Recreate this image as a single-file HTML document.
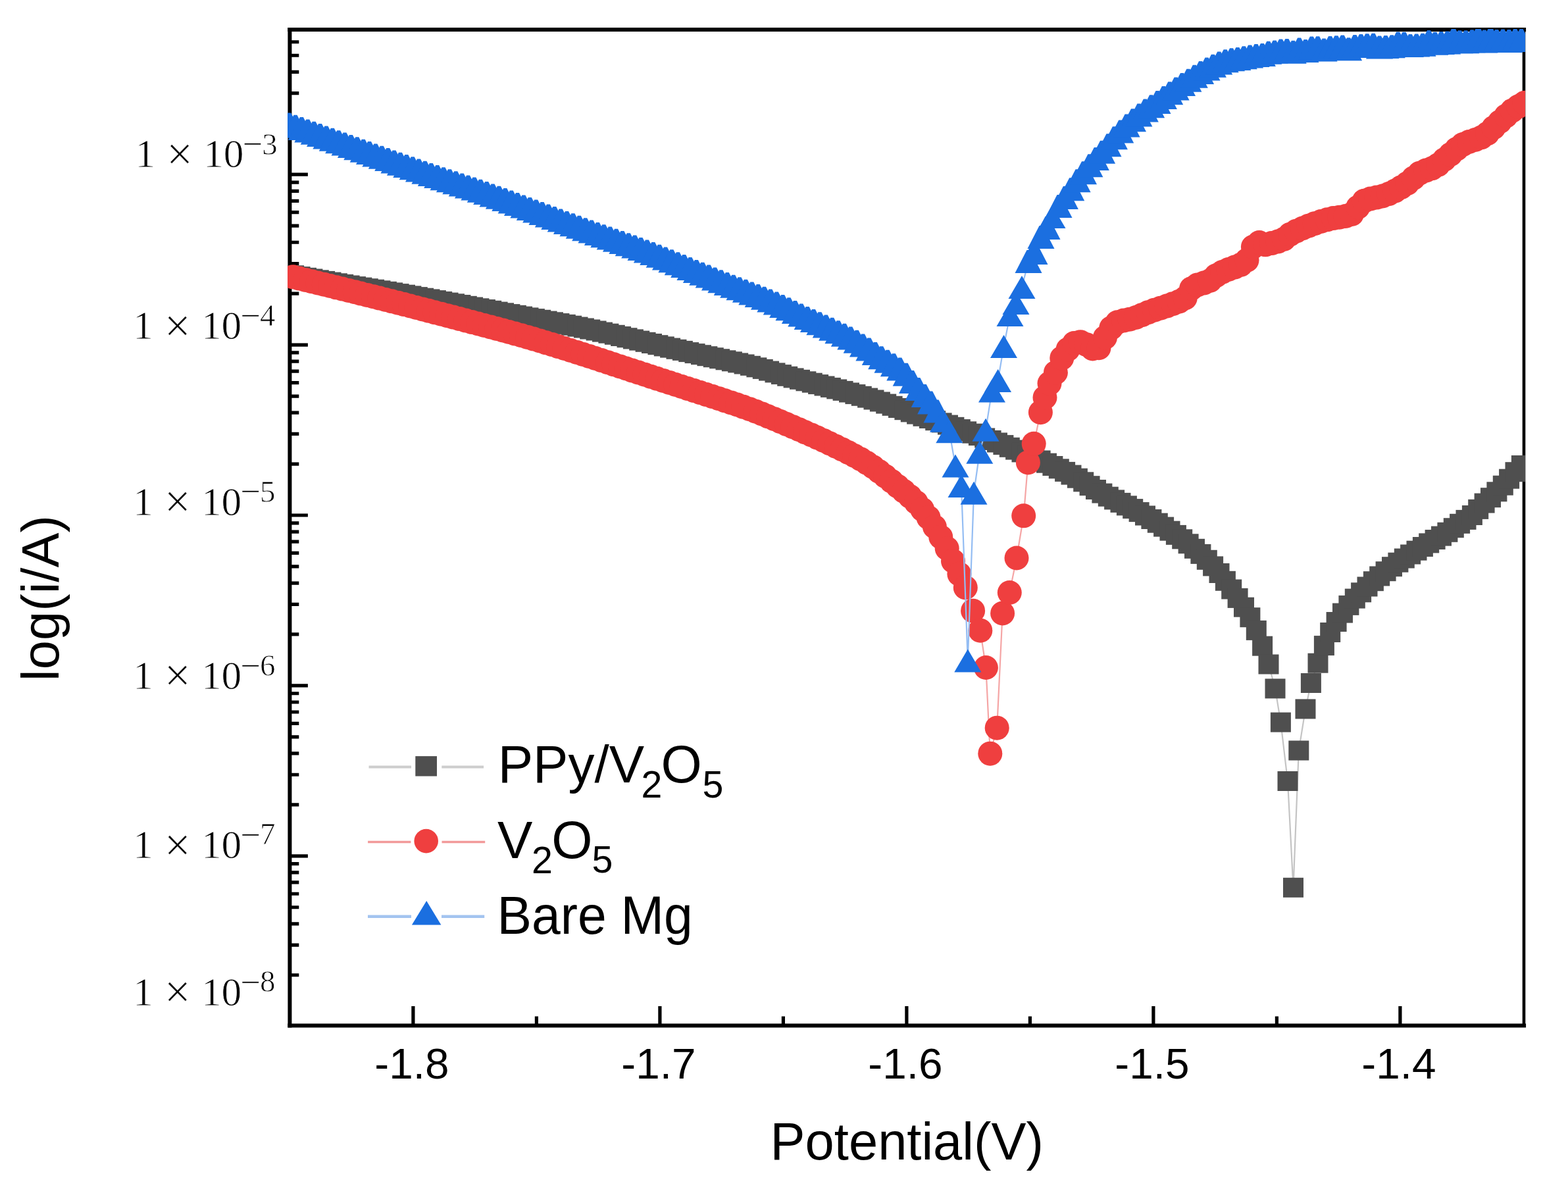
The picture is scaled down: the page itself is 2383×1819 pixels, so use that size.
<!DOCTYPE html><html><head><meta charset="utf-8"><style>html,body{margin:0;padding:0;background:#fff;}svg{display:block;}</style></head><body><svg xmlns="http://www.w3.org/2000/svg" width="2383" height="1819" viewBox="0 0 2383 1819">
<rect width="2383" height="1819" fill="#fff"/>
<defs><clipPath id="pc"><rect x="437" y="43.9" width="1881" height="1515"/></clipPath></defs>
<g stroke="#000" fill="none" stroke-linecap="square">
<line x1="440.4" y1="45" x2="2316" y2="45" stroke-width="6.2"/>
<line x1="440.4" y1="45" x2="440.4" y2="1558.5" stroke-width="6.0"/>
<line x1="440.4" y1="1558.5" x2="2316" y2="1558.5" stroke-width="6.2"/>
<line x1="2316" y1="45" x2="2316" y2="1558.5" stroke-width="4.6"/>
</g>
<path d="M443,1481.76H454.3M443,1436.17H454.3M443,1403.83H454.3M443,1378.74H454.3M443,1358.24H454.3M443,1340.90H454.3M443,1325.89H454.3M443,1312.65H454.3M443,1300.80H467.9M443,1222.86H454.3M443,1177.27H454.3M443,1144.93H454.3M443,1119.84H454.3M443,1099.34H454.3M443,1082.00H454.3M443,1066.99H454.3M443,1053.75H454.3M443,1041.90H467.9M443,963.96H454.3M443,918.37H454.3M443,886.03H454.3M443,860.94H454.3M443,840.44H454.3M443,823.10H454.3M443,808.09H454.3M443,794.85H454.3M443,783.00H467.9M443,705.06H454.3M443,659.47H454.3M443,627.13H454.3M443,602.04H454.3M443,581.54H454.3M443,564.20H454.3M443,549.19H454.3M443,535.95H454.3M443,524.10H467.9M443,446.16H454.3M443,400.57H454.3M443,368.23H454.3M443,343.14H454.3M443,322.64H454.3M443,305.30H454.3M443,290.29H454.3M443,277.05H454.3M443,265.20H467.9M443,187.26H454.3M443,141.67H454.3M443,109.33H454.3M443,84.24H454.3M443,63.74H454.3M627.90,1556V1529.0M815.40,1556V1544.5M1002.90,1556V1529.0M1190.40,1556V1544.5M1377.90,1556V1529.0M1565.40,1556V1544.5M1752.90,1556V1529.0M1940.40,1556V1544.5M2127.90,1556V1529.0" stroke="#000" stroke-width="5.2" fill="none"/>
<g clip-path="url(#pc)">
<polyline points="446.8,418.3 456.1,420.1 465.5,421.8 474.9,423.5 484.2,425.3 493.6,426.9 503.0,428.6 512.4,430.3 521.8,431.9 531.1,433.5 540.5,435.1 549.9,436.6 559.2,438.2 568.6,439.7 578.0,441.3 587.4,442.8 596.8,444.4 606.1,446.1 615.5,447.7 624.9,449.4 634.2,451.1 643.6,452.7 653.0,454.4 662.4,456.1 671.8,457.9 681.1,459.6 690.5,461.3 699.9,463.0 709.2,464.8 718.6,466.5 728.0,468.3 737.4,470.0 746.8,471.8 756.1,473.6 765.5,475.3 774.9,477.1 784.2,478.8 793.6,480.6 803.0,482.4 812.4,484.1 821.8,485.8 831.1,487.6 840.5,489.3 849.9,491.1 859.2,492.9 868.6,494.7 878.0,496.6 887.4,498.5 896.8,500.5 906.1,502.5 915.5,504.6 924.9,506.7 934.2,508.8 943.6,511.0 953.0,513.2 962.4,515.4 971.8,517.6 981.1,519.8 990.5,522.0 999.9,524.2 1009.2,526.4 1018.6,528.6 1028.0,530.8 1037.4,532.9 1046.8,535.1 1056.1,537.1 1065.5,539.2 1074.9,541.2 1084.2,543.2 1093.6,545.2 1103.0,547.3 1112.4,549.3 1121.8,551.4 1131.1,553.5 1140.5,555.8 1149.9,558.3 1159.2,560.9 1168.6,563.6 1178.0,566.4 1187.4,569.1 1196.8,571.8 1206.1,574.4 1215.5,576.8 1224.9,579.3 1234.2,581.7 1243.6,584.1 1253.0,586.5 1262.4,588.9 1271.8,591.4 1281.1,593.9 1290.5,596.5 1299.9,599.1 1309.2,601.8 1318.6,604.6 1328.0,607.5 1337.4,610.5 1346.8,613.6 1356.1,616.8 1365.5,620.0 1374.9,623.2 1384.2,626.4 1393.6,629.6 1403.0,632.8 1412.4,636.0 1421.8,639.2 1431.1,642.4 1440.5,645.6 1449.9,648.8 1459.2,652.1 1468.6,655.4 1478.0,658.7 1487.4,662.1 1496.8,665.5 1506.1,669.0 1515.5,672.5 1524.9,676.1 1534.2,679.8 1543.6,683.6 1553.0,687.4 1562.4,691.4 1571.8,695.4 1581.1,699.5 1590.5,703.7 1599.9,708.0 1609.2,712.3 1618.6,716.9 1628.0,721.6 1637.4,726.7 1646.8,732.3 1656.1,738.2 1665.5,744.0 1674.9,749.6 1684.2,754.7 1693.6,759.4 1703.0,763.9 1712.4,768.4 1721.8,773.1 1731.1,778.1 1740.5,783.5 1749.9,789.0 1759.2,794.7 1768.6,800.6 1778.0,806.7 1787.4,812.9 1796.8,819.3 1806.1,826.3 1815.5,833.8 1824.9,841.9 1834.2,850.8 1843.6,860.4 1853.0,871.0 1862.4,882.8 1871.8,895.5 1881.1,908.9 1890.5,922.7 1899.9,938.2 1909.2,957.9 1918.6,981.7 1928.0,1009.5 1938.0,1046.4 1946.4,1097.6 1957.0,1187.0 1965.5,1348.8 1973.8,1140.5 1984.0,1077.4 1992.4,1038.0 2003.0,1007.7 2012.4,981.1 2021.8,961.0 2031.1,945.0 2040.5,931.6 2049.9,919.9 2059.2,909.6 2068.6,900.3 2078.0,891.5 2087.4,883.2 2096.8,875.5 2106.1,868.2 2115.5,861.2 2124.9,854.7 2134.2,848.5 2143.6,842.5 2153.0,836.7 2162.4,831.0 2171.8,825.4 2181.1,820.0 2190.5,814.6 2199.9,808.8 2209.2,802.2 2218.6,795.8 2228.0,789.9 2237.4,783.0 2246.8,773.9 2256.1,764.6 2265.5,756.2 2274.9,747.3 2284.2,737.7 2293.6,727.7 2303.0,717.2 2312.4,707.0" fill="none" stroke="#c4c4c4" stroke-width="2.2"/>
<g fill="#4f4f4f">
<rect x="431.2" y="403.3" width="31" height="30"/>
<rect x="440.6" y="405.1" width="31" height="30"/>
<rect x="450.0" y="406.8" width="31" height="30"/>
<rect x="459.4" y="408.5" width="31" height="30"/>
<rect x="468.8" y="410.3" width="31" height="30"/>
<rect x="478.1" y="411.9" width="31" height="30"/>
<rect x="487.5" y="413.6" width="31" height="30"/>
<rect x="496.9" y="415.3" width="31" height="30"/>
<rect x="506.2" y="416.9" width="31" height="30"/>
<rect x="515.6" y="418.5" width="31" height="30"/>
<rect x="525.0" y="420.1" width="31" height="30"/>
<rect x="534.4" y="421.6" width="31" height="30"/>
<rect x="543.8" y="423.2" width="31" height="30"/>
<rect x="553.1" y="424.7" width="31" height="30"/>
<rect x="562.5" y="426.3" width="31" height="30"/>
<rect x="571.9" y="427.8" width="31" height="30"/>
<rect x="581.2" y="429.4" width="31" height="30"/>
<rect x="590.6" y="431.1" width="31" height="30"/>
<rect x="600.0" y="432.7" width="31" height="30"/>
<rect x="609.4" y="434.4" width="31" height="30"/>
<rect x="618.8" y="436.1" width="31" height="30"/>
<rect x="628.1" y="437.7" width="31" height="30"/>
<rect x="637.5" y="439.4" width="31" height="30"/>
<rect x="646.9" y="441.1" width="31" height="30"/>
<rect x="656.2" y="442.9" width="31" height="30"/>
<rect x="665.6" y="444.6" width="31" height="30"/>
<rect x="675.0" y="446.3" width="31" height="30"/>
<rect x="684.4" y="448.0" width="31" height="30"/>
<rect x="693.8" y="449.8" width="31" height="30"/>
<rect x="703.1" y="451.5" width="31" height="30"/>
<rect x="712.5" y="453.3" width="31" height="30"/>
<rect x="721.9" y="455.0" width="31" height="30"/>
<rect x="731.2" y="456.8" width="31" height="30"/>
<rect x="740.6" y="458.6" width="31" height="30"/>
<rect x="750.0" y="460.3" width="31" height="30"/>
<rect x="759.4" y="462.1" width="31" height="30"/>
<rect x="768.8" y="463.8" width="31" height="30"/>
<rect x="778.1" y="465.6" width="31" height="30"/>
<rect x="787.5" y="467.4" width="31" height="30"/>
<rect x="796.9" y="469.1" width="31" height="30"/>
<rect x="806.2" y="470.8" width="31" height="30"/>
<rect x="815.6" y="472.6" width="31" height="30"/>
<rect x="825.0" y="474.3" width="31" height="30"/>
<rect x="834.4" y="476.1" width="31" height="30"/>
<rect x="843.8" y="477.9" width="31" height="30"/>
<rect x="853.1" y="479.7" width="31" height="30"/>
<rect x="862.5" y="481.6" width="31" height="30"/>
<rect x="871.9" y="483.5" width="31" height="30"/>
<rect x="881.2" y="485.5" width="31" height="30"/>
<rect x="890.6" y="487.5" width="31" height="30"/>
<rect x="900.0" y="489.6" width="31" height="30"/>
<rect x="909.4" y="491.7" width="31" height="30"/>
<rect x="918.8" y="493.8" width="31" height="30"/>
<rect x="928.1" y="496.0" width="31" height="30"/>
<rect x="937.5" y="498.2" width="31" height="30"/>
<rect x="946.9" y="500.4" width="31" height="30"/>
<rect x="956.2" y="502.6" width="31" height="30"/>
<rect x="965.6" y="504.8" width="31" height="30"/>
<rect x="975.0" y="507.0" width="31" height="30"/>
<rect x="984.4" y="509.2" width="31" height="30"/>
<rect x="993.8" y="511.4" width="31" height="30"/>
<rect x="1003.1" y="513.6" width="31" height="30"/>
<rect x="1012.5" y="515.8" width="31" height="30"/>
<rect x="1021.9" y="517.9" width="31" height="30"/>
<rect x="1031.2" y="520.1" width="31" height="30"/>
<rect x="1040.6" y="522.1" width="31" height="30"/>
<rect x="1050.0" y="524.2" width="31" height="30"/>
<rect x="1059.4" y="526.2" width="31" height="30"/>
<rect x="1068.8" y="528.2" width="31" height="30"/>
<rect x="1078.1" y="530.2" width="31" height="30"/>
<rect x="1087.5" y="532.3" width="31" height="30"/>
<rect x="1096.9" y="534.3" width="31" height="30"/>
<rect x="1106.2" y="536.4" width="31" height="30"/>
<rect x="1115.6" y="538.5" width="31" height="30"/>
<rect x="1125.0" y="540.8" width="31" height="30"/>
<rect x="1134.4" y="543.3" width="31" height="30"/>
<rect x="1143.8" y="545.9" width="31" height="30"/>
<rect x="1153.1" y="548.6" width="31" height="30"/>
<rect x="1162.5" y="551.4" width="31" height="30"/>
<rect x="1171.9" y="554.1" width="31" height="30"/>
<rect x="1181.2" y="556.8" width="31" height="30"/>
<rect x="1190.6" y="559.4" width="31" height="30"/>
<rect x="1200.0" y="561.8" width="31" height="30"/>
<rect x="1209.4" y="564.3" width="31" height="30"/>
<rect x="1218.8" y="566.7" width="31" height="30"/>
<rect x="1228.1" y="569.1" width="31" height="30"/>
<rect x="1237.5" y="571.5" width="31" height="30"/>
<rect x="1246.9" y="573.9" width="31" height="30"/>
<rect x="1256.2" y="576.4" width="31" height="30"/>
<rect x="1265.6" y="578.9" width="31" height="30"/>
<rect x="1275.0" y="581.5" width="31" height="30"/>
<rect x="1284.4" y="584.1" width="31" height="30"/>
<rect x="1293.8" y="586.8" width="31" height="30"/>
<rect x="1303.1" y="589.6" width="31" height="30"/>
<rect x="1312.5" y="592.5" width="31" height="30"/>
<rect x="1321.9" y="595.5" width="31" height="30"/>
<rect x="1331.2" y="598.6" width="31" height="30"/>
<rect x="1340.6" y="601.8" width="31" height="30"/>
<rect x="1350.0" y="605.0" width="31" height="30"/>
<rect x="1359.4" y="608.2" width="31" height="30"/>
<rect x="1368.8" y="611.4" width="31" height="30"/>
<rect x="1378.1" y="614.6" width="31" height="30"/>
<rect x="1387.5" y="617.8" width="31" height="30"/>
<rect x="1396.9" y="621.0" width="31" height="30"/>
<rect x="1406.2" y="624.2" width="31" height="30"/>
<rect x="1415.6" y="627.4" width="31" height="30"/>
<rect x="1425.0" y="630.6" width="31" height="30"/>
<rect x="1434.4" y="633.8" width="31" height="30"/>
<rect x="1443.8" y="637.1" width="31" height="30"/>
<rect x="1453.1" y="640.4" width="31" height="30"/>
<rect x="1462.5" y="643.7" width="31" height="30"/>
<rect x="1471.9" y="647.1" width="31" height="30"/>
<rect x="1481.2" y="650.5" width="31" height="30"/>
<rect x="1490.6" y="654.0" width="31" height="30"/>
<rect x="1500.0" y="657.5" width="31" height="30"/>
<rect x="1509.4" y="661.1" width="31" height="30"/>
<rect x="1518.8" y="664.8" width="31" height="30"/>
<rect x="1528.1" y="668.6" width="31" height="30"/>
<rect x="1537.5" y="672.4" width="31" height="30"/>
<rect x="1546.9" y="676.4" width="31" height="30"/>
<rect x="1556.2" y="680.4" width="31" height="30"/>
<rect x="1565.6" y="684.5" width="31" height="30"/>
<rect x="1575.0" y="688.7" width="31" height="30"/>
<rect x="1584.4" y="693.0" width="31" height="30"/>
<rect x="1593.8" y="697.3" width="31" height="30"/>
<rect x="1603.1" y="701.9" width="31" height="30"/>
<rect x="1612.5" y="706.6" width="31" height="30"/>
<rect x="1621.9" y="711.7" width="31" height="30"/>
<rect x="1631.2" y="717.3" width="31" height="30"/>
<rect x="1640.6" y="723.2" width="31" height="30"/>
<rect x="1650.0" y="729.0" width="31" height="30"/>
<rect x="1659.4" y="734.6" width="31" height="30"/>
<rect x="1668.8" y="739.7" width="31" height="30"/>
<rect x="1678.1" y="744.4" width="31" height="30"/>
<rect x="1687.5" y="748.9" width="31" height="30"/>
<rect x="1696.9" y="753.4" width="31" height="30"/>
<rect x="1706.2" y="758.1" width="31" height="30"/>
<rect x="1715.6" y="763.1" width="31" height="30"/>
<rect x="1725.0" y="768.5" width="31" height="30"/>
<rect x="1734.4" y="774.0" width="31" height="30"/>
<rect x="1743.8" y="779.7" width="31" height="30"/>
<rect x="1753.1" y="785.6" width="31" height="30"/>
<rect x="1762.5" y="791.7" width="31" height="30"/>
<rect x="1771.9" y="797.9" width="31" height="30"/>
<rect x="1781.2" y="804.3" width="31" height="30"/>
<rect x="1790.6" y="811.3" width="31" height="30"/>
<rect x="1800.0" y="818.8" width="31" height="30"/>
<rect x="1809.4" y="826.9" width="31" height="30"/>
<rect x="1818.8" y="835.8" width="31" height="30"/>
<rect x="1828.1" y="845.4" width="31" height="30"/>
<rect x="1837.5" y="856.0" width="31" height="30"/>
<rect x="1846.9" y="867.8" width="31" height="30"/>
<rect x="1856.2" y="880.5" width="31" height="30"/>
<rect x="1865.6" y="893.9" width="31" height="30"/>
<rect x="1875.0" y="907.7" width="31" height="30"/>
<rect x="1884.4" y="923.2" width="31" height="30"/>
<rect x="1893.8" y="942.9" width="31" height="30"/>
<rect x="1903.1" y="966.7" width="31" height="30"/>
<rect x="1912.5" y="994.5" width="31" height="30"/>
<rect x="1922.5" y="1031.4" width="31" height="30"/>
<rect x="1930.9" y="1082.6" width="31" height="30"/>
<rect x="1941.5" y="1172.0" width="31" height="30"/>
<rect x="1950.0" y="1333.8" width="31" height="30"/>
<rect x="1958.3" y="1125.5" width="31" height="30"/>
<rect x="1968.5" y="1062.4" width="31" height="30"/>
<rect x="1976.9" y="1023.0" width="31" height="30"/>
<rect x="1987.5" y="992.7" width="31" height="30"/>
<rect x="1996.9" y="966.1" width="31" height="30"/>
<rect x="2006.2" y="946.0" width="31" height="30"/>
<rect x="2015.6" y="930.0" width="31" height="30"/>
<rect x="2025.0" y="916.6" width="31" height="30"/>
<rect x="2034.4" y="904.9" width="31" height="30"/>
<rect x="2043.8" y="894.6" width="31" height="30"/>
<rect x="2053.1" y="885.3" width="31" height="30"/>
<rect x="2062.5" y="876.5" width="31" height="30"/>
<rect x="2071.9" y="868.2" width="31" height="30"/>
<rect x="2081.2" y="860.5" width="31" height="30"/>
<rect x="2090.6" y="853.2" width="31" height="30"/>
<rect x="2100.0" y="846.2" width="31" height="30"/>
<rect x="2109.4" y="839.7" width="31" height="30"/>
<rect x="2118.8" y="833.5" width="31" height="30"/>
<rect x="2128.1" y="827.5" width="31" height="30"/>
<rect x="2137.5" y="821.7" width="31" height="30"/>
<rect x="2146.9" y="816.0" width="31" height="30"/>
<rect x="2156.2" y="810.4" width="31" height="30"/>
<rect x="2165.6" y="805.0" width="31" height="30"/>
<rect x="2175.0" y="799.6" width="31" height="30"/>
<rect x="2184.4" y="793.8" width="31" height="30"/>
<rect x="2193.8" y="787.2" width="31" height="30"/>
<rect x="2203.1" y="780.8" width="31" height="30"/>
<rect x="2212.5" y="774.9" width="31" height="30"/>
<rect x="2221.9" y="768.0" width="31" height="30"/>
<rect x="2231.2" y="758.9" width="31" height="30"/>
<rect x="2240.6" y="749.6" width="31" height="30"/>
<rect x="2250.0" y="741.2" width="31" height="30"/>
<rect x="2259.4" y="732.3" width="31" height="30"/>
<rect x="2268.8" y="722.7" width="31" height="30"/>
<rect x="2278.1" y="712.7" width="31" height="30"/>
<rect x="2287.5" y="702.2" width="31" height="30"/>
<rect x="2296.9" y="692.0" width="31" height="30"/>
</g>
<polyline points="445.4,420.8 454.8,423.1 464.2,425.4 473.5,427.7 482.9,430.0 492.3,432.2 501.7,434.5 511.0,436.8 520.4,439.1 529.8,441.4 539.2,443.7 548.5,446.1 557.9,448.4 567.3,450.7 576.7,453.1 586.0,455.5 595.4,457.8 604.8,460.2 614.2,462.6 623.5,465.0 632.9,467.5 642.3,469.9 651.7,472.3 661.0,474.8 670.4,477.2 679.8,479.7 689.2,482.1 698.5,484.6 707.9,487.1 717.3,489.6 726.7,492.0 736.0,494.5 745.4,496.9 754.8,499.4 764.2,501.9 773.5,504.5 782.9,507.1 792.3,509.7 801.7,512.4 811.0,515.1 820.4,517.9 829.8,520.8 839.2,523.6 848.5,526.6 857.9,529.5 867.3,532.5 876.7,535.4 886.0,538.4 895.4,541.4 904.8,544.5 914.2,547.6 923.5,550.7 932.9,553.8 942.3,556.9 951.7,560.0 961.0,563.1 970.4,566.1 979.8,569.2 989.2,572.3 998.5,575.3 1007.9,578.4 1017.3,581.4 1026.7,584.5 1036.0,587.5 1045.4,590.6 1054.8,593.6 1064.2,596.6 1073.5,599.6 1082.9,602.6 1092.3,605.7 1101.7,608.8 1111.0,611.9 1120.4,615.0 1129.8,618.3 1139.2,621.7 1148.5,625.2 1157.9,628.9 1167.3,632.8 1176.7,636.7 1186.0,640.6 1195.4,644.6 1204.8,648.7 1214.2,652.7 1223.5,656.8 1232.9,660.9 1242.3,665.1 1251.7,669.4 1261.0,673.8 1270.4,678.3 1279.8,682.9 1289.2,687.6 1298.5,692.5 1307.9,697.7 1317.3,703.3 1326.7,709.5 1336.0,716.3 1345.4,723.6 1354.8,731.2 1364.2,738.8 1373.5,746.3 1382.9,754.3 1392.3,763.4 1401.7,774.2 1411.0,786.4 1420.4,800.5 1429.8,816.2 1439.2,833.4 1448.5,852.7 1457.9,872.3 1467.3,892.9 1478.6,928.2 1489.8,958.2 1498.4,1014.5 1504.8,1145.2 1515.2,1106.2 1523.6,932.0 1534.3,900.5 1545.0,848.0 1555.7,783.8 1562.4,702.9 1571.2,674.3 1581.4,626.7 1588.0,604.0 1595.0,582.6 1604.4,566.2 1613.8,544.1 1623.1,530.8 1632.5,521.5 1641.9,519.7 1651.2,523.7 1660.6,529.9 1670.0,528.7 1679.4,512.9 1688.8,498.4 1698.1,489.8 1707.5,487.1 1716.9,485.2 1726.2,482.5 1735.6,478.7 1745.0,474.7 1754.4,471.2 1763.8,468.2 1773.1,465.1 1782.5,461.7 1791.9,458.2 1801.2,452.9 1810.6,438.5 1820.0,432.9 1829.4,430.1 1838.8,426.5 1848.1,418.8 1857.5,413.5 1866.9,409.5 1876.2,406.1 1885.6,402.3 1895.0,395.3 1904.4,375.1 1913.8,368.6 1923.1,371.8 1932.5,369.6 1941.9,367.1 1951.2,363.3 1960.6,356.2 1970.0,351.2 1979.4,347.0 1988.8,343.2 1998.1,339.7 2007.5,336.5 2016.9,333.8 2026.2,331.6 2035.6,330.2 2045.0,328.5 2054.4,325.4 2063.8,314.9 2073.1,305.3 2082.5,302.1 2091.9,300.1 2101.2,298.0 2110.6,294.6 2120.0,290.1 2129.4,284.7 2138.8,278.7 2148.1,270.7 2157.5,263.2 2166.9,259.1 2176.2,255.8 2185.6,250.5 2195.0,242.5 2204.4,234.6 2213.8,226.4 2223.1,219.6 2232.5,215.5 2241.9,212.5 2251.2,208.8 2260.6,202.9 2270.0,193.9 2279.4,185.0 2288.8,176.1 2298.1,168.1 2307.5,161.8 2316.9,156.3" fill="none" stroke="#f5a5a5" stroke-width="2.2"/>
<g fill="#ef3f3f">
<circle cx="445.4" cy="420.8" r="18.5"/>
<circle cx="454.8" cy="423.1" r="18.5"/>
<circle cx="464.2" cy="425.4" r="18.5"/>
<circle cx="473.5" cy="427.7" r="18.5"/>
<circle cx="482.9" cy="430.0" r="18.5"/>
<circle cx="492.3" cy="432.2" r="18.5"/>
<circle cx="501.7" cy="434.5" r="18.5"/>
<circle cx="511.0" cy="436.8" r="18.5"/>
<circle cx="520.4" cy="439.1" r="18.5"/>
<circle cx="529.8" cy="441.4" r="18.5"/>
<circle cx="539.2" cy="443.7" r="18.5"/>
<circle cx="548.5" cy="446.1" r="18.5"/>
<circle cx="557.9" cy="448.4" r="18.5"/>
<circle cx="567.3" cy="450.7" r="18.5"/>
<circle cx="576.7" cy="453.1" r="18.5"/>
<circle cx="586.0" cy="455.5" r="18.5"/>
<circle cx="595.4" cy="457.8" r="18.5"/>
<circle cx="604.8" cy="460.2" r="18.5"/>
<circle cx="614.2" cy="462.6" r="18.5"/>
<circle cx="623.5" cy="465.0" r="18.5"/>
<circle cx="632.9" cy="467.5" r="18.5"/>
<circle cx="642.3" cy="469.9" r="18.5"/>
<circle cx="651.7" cy="472.3" r="18.5"/>
<circle cx="661.0" cy="474.8" r="18.5"/>
<circle cx="670.4" cy="477.2" r="18.5"/>
<circle cx="679.8" cy="479.7" r="18.5"/>
<circle cx="689.2" cy="482.1" r="18.5"/>
<circle cx="698.5" cy="484.6" r="18.5"/>
<circle cx="707.9" cy="487.1" r="18.5"/>
<circle cx="717.3" cy="489.6" r="18.5"/>
<circle cx="726.7" cy="492.0" r="18.5"/>
<circle cx="736.0" cy="494.5" r="18.5"/>
<circle cx="745.4" cy="496.9" r="18.5"/>
<circle cx="754.8" cy="499.4" r="18.5"/>
<circle cx="764.2" cy="501.9" r="18.5"/>
<circle cx="773.5" cy="504.5" r="18.5"/>
<circle cx="782.9" cy="507.1" r="18.5"/>
<circle cx="792.3" cy="509.7" r="18.5"/>
<circle cx="801.7" cy="512.4" r="18.5"/>
<circle cx="811.0" cy="515.1" r="18.5"/>
<circle cx="820.4" cy="517.9" r="18.5"/>
<circle cx="829.8" cy="520.8" r="18.5"/>
<circle cx="839.2" cy="523.6" r="18.5"/>
<circle cx="848.5" cy="526.6" r="18.5"/>
<circle cx="857.9" cy="529.5" r="18.5"/>
<circle cx="867.3" cy="532.5" r="18.5"/>
<circle cx="876.7" cy="535.4" r="18.5"/>
<circle cx="886.0" cy="538.4" r="18.5"/>
<circle cx="895.4" cy="541.4" r="18.5"/>
<circle cx="904.8" cy="544.5" r="18.5"/>
<circle cx="914.2" cy="547.6" r="18.5"/>
<circle cx="923.5" cy="550.7" r="18.5"/>
<circle cx="932.9" cy="553.8" r="18.5"/>
<circle cx="942.3" cy="556.9" r="18.5"/>
<circle cx="951.7" cy="560.0" r="18.5"/>
<circle cx="961.0" cy="563.1" r="18.5"/>
<circle cx="970.4" cy="566.1" r="18.5"/>
<circle cx="979.8" cy="569.2" r="18.5"/>
<circle cx="989.2" cy="572.3" r="18.5"/>
<circle cx="998.5" cy="575.3" r="18.5"/>
<circle cx="1007.9" cy="578.4" r="18.5"/>
<circle cx="1017.3" cy="581.4" r="18.5"/>
<circle cx="1026.7" cy="584.5" r="18.5"/>
<circle cx="1036.0" cy="587.5" r="18.5"/>
<circle cx="1045.4" cy="590.6" r="18.5"/>
<circle cx="1054.8" cy="593.6" r="18.5"/>
<circle cx="1064.2" cy="596.6" r="18.5"/>
<circle cx="1073.5" cy="599.6" r="18.5"/>
<circle cx="1082.9" cy="602.6" r="18.5"/>
<circle cx="1092.3" cy="605.7" r="18.5"/>
<circle cx="1101.7" cy="608.8" r="18.5"/>
<circle cx="1111.0" cy="611.9" r="18.5"/>
<circle cx="1120.4" cy="615.0" r="18.5"/>
<circle cx="1129.8" cy="618.3" r="18.5"/>
<circle cx="1139.2" cy="621.7" r="18.5"/>
<circle cx="1148.5" cy="625.2" r="18.5"/>
<circle cx="1157.9" cy="628.9" r="18.5"/>
<circle cx="1167.3" cy="632.8" r="18.5"/>
<circle cx="1176.7" cy="636.7" r="18.5"/>
<circle cx="1186.0" cy="640.6" r="18.5"/>
<circle cx="1195.4" cy="644.6" r="18.5"/>
<circle cx="1204.8" cy="648.7" r="18.5"/>
<circle cx="1214.2" cy="652.7" r="18.5"/>
<circle cx="1223.5" cy="656.8" r="18.5"/>
<circle cx="1232.9" cy="660.9" r="18.5"/>
<circle cx="1242.3" cy="665.1" r="18.5"/>
<circle cx="1251.7" cy="669.4" r="18.5"/>
<circle cx="1261.0" cy="673.8" r="18.5"/>
<circle cx="1270.4" cy="678.3" r="18.5"/>
<circle cx="1279.8" cy="682.9" r="18.5"/>
<circle cx="1289.2" cy="687.6" r="18.5"/>
<circle cx="1298.5" cy="692.5" r="18.5"/>
<circle cx="1307.9" cy="697.7" r="18.5"/>
<circle cx="1317.3" cy="703.3" r="18.5"/>
<circle cx="1326.7" cy="709.5" r="18.5"/>
<circle cx="1336.0" cy="716.3" r="18.5"/>
<circle cx="1345.4" cy="723.6" r="18.5"/>
<circle cx="1354.8" cy="731.2" r="18.5"/>
<circle cx="1364.2" cy="738.8" r="18.5"/>
<circle cx="1373.5" cy="746.3" r="18.5"/>
<circle cx="1382.9" cy="754.3" r="18.5"/>
<circle cx="1392.3" cy="763.4" r="18.5"/>
<circle cx="1401.7" cy="774.2" r="18.5"/>
<circle cx="1411.0" cy="786.4" r="18.5"/>
<circle cx="1420.4" cy="800.5" r="18.5"/>
<circle cx="1429.8" cy="816.2" r="18.5"/>
<circle cx="1439.2" cy="833.4" r="18.5"/>
<circle cx="1448.5" cy="852.7" r="18.5"/>
<circle cx="1457.9" cy="872.3" r="18.5"/>
<circle cx="1467.3" cy="892.9" r="18.5"/>
<circle cx="1478.6" cy="928.2" r="18.5"/>
<circle cx="1489.8" cy="958.2" r="18.5"/>
<circle cx="1498.4" cy="1014.5" r="18.5"/>
<circle cx="1504.8" cy="1145.2" r="18.5"/>
<circle cx="1515.2" cy="1106.2" r="18.5"/>
<circle cx="1523.6" cy="932.0" r="18.5"/>
<circle cx="1534.3" cy="900.5" r="18.5"/>
<circle cx="1545.0" cy="848.0" r="18.5"/>
<circle cx="1555.7" cy="783.8" r="18.5"/>
<circle cx="1562.4" cy="702.9" r="18.5"/>
<circle cx="1571.2" cy="674.3" r="18.5"/>
<circle cx="1581.4" cy="626.7" r="18.5"/>
<circle cx="1588.0" cy="604.0" r="18.5"/>
<circle cx="1595.0" cy="582.6" r="18.5"/>
<circle cx="1604.4" cy="566.2" r="18.5"/>
<circle cx="1613.8" cy="544.1" r="18.5"/>
<circle cx="1623.1" cy="530.8" r="18.5"/>
<circle cx="1632.5" cy="521.5" r="18.5"/>
<circle cx="1641.9" cy="519.7" r="18.5"/>
<circle cx="1651.2" cy="523.7" r="18.5"/>
<circle cx="1660.6" cy="529.9" r="18.5"/>
<circle cx="1670.0" cy="528.7" r="18.5"/>
<circle cx="1679.4" cy="512.9" r="18.5"/>
<circle cx="1688.8" cy="498.4" r="18.5"/>
<circle cx="1698.1" cy="489.8" r="18.5"/>
<circle cx="1707.5" cy="487.1" r="18.5"/>
<circle cx="1716.9" cy="485.2" r="18.5"/>
<circle cx="1726.2" cy="482.5" r="18.5"/>
<circle cx="1735.6" cy="478.7" r="18.5"/>
<circle cx="1745.0" cy="474.7" r="18.5"/>
<circle cx="1754.4" cy="471.2" r="18.5"/>
<circle cx="1763.8" cy="468.2" r="18.5"/>
<circle cx="1773.1" cy="465.1" r="18.5"/>
<circle cx="1782.5" cy="461.7" r="18.5"/>
<circle cx="1791.9" cy="458.2" r="18.5"/>
<circle cx="1801.2" cy="452.9" r="18.5"/>
<circle cx="1810.6" cy="438.5" r="18.5"/>
<circle cx="1820.0" cy="432.9" r="18.5"/>
<circle cx="1829.4" cy="430.1" r="18.5"/>
<circle cx="1838.8" cy="426.5" r="18.5"/>
<circle cx="1848.1" cy="418.8" r="18.5"/>
<circle cx="1857.5" cy="413.5" r="18.5"/>
<circle cx="1866.9" cy="409.5" r="18.5"/>
<circle cx="1876.2" cy="406.1" r="18.5"/>
<circle cx="1885.6" cy="402.3" r="18.5"/>
<circle cx="1895.0" cy="395.3" r="18.5"/>
<circle cx="1904.4" cy="375.1" r="18.5"/>
<circle cx="1913.8" cy="368.6" r="18.5"/>
<circle cx="1923.1" cy="371.8" r="18.5"/>
<circle cx="1932.5" cy="369.6" r="18.5"/>
<circle cx="1941.9" cy="367.1" r="18.5"/>
<circle cx="1951.2" cy="363.3" r="18.5"/>
<circle cx="1960.6" cy="356.2" r="18.5"/>
<circle cx="1970.0" cy="351.2" r="18.5"/>
<circle cx="1979.4" cy="347.0" r="18.5"/>
<circle cx="1988.8" cy="343.2" r="18.5"/>
<circle cx="1998.1" cy="339.7" r="18.5"/>
<circle cx="2007.5" cy="336.5" r="18.5"/>
<circle cx="2016.9" cy="333.8" r="18.5"/>
<circle cx="2026.2" cy="331.6" r="18.5"/>
<circle cx="2035.6" cy="330.2" r="18.5"/>
<circle cx="2045.0" cy="328.5" r="18.5"/>
<circle cx="2054.4" cy="325.4" r="18.5"/>
<circle cx="2063.8" cy="314.9" r="18.5"/>
<circle cx="2073.1" cy="305.3" r="18.5"/>
<circle cx="2082.5" cy="302.1" r="18.5"/>
<circle cx="2091.9" cy="300.1" r="18.5"/>
<circle cx="2101.2" cy="298.0" r="18.5"/>
<circle cx="2110.6" cy="294.6" r="18.5"/>
<circle cx="2120.0" cy="290.1" r="18.5"/>
<circle cx="2129.4" cy="284.7" r="18.5"/>
<circle cx="2138.8" cy="278.7" r="18.5"/>
<circle cx="2148.1" cy="270.7" r="18.5"/>
<circle cx="2157.5" cy="263.2" r="18.5"/>
<circle cx="2166.9" cy="259.1" r="18.5"/>
<circle cx="2176.2" cy="255.8" r="18.5"/>
<circle cx="2185.6" cy="250.5" r="18.5"/>
<circle cx="2195.0" cy="242.5" r="18.5"/>
<circle cx="2204.4" cy="234.6" r="18.5"/>
<circle cx="2213.8" cy="226.4" r="18.5"/>
<circle cx="2223.1" cy="219.6" r="18.5"/>
<circle cx="2232.5" cy="215.5" r="18.5"/>
<circle cx="2241.9" cy="212.5" r="18.5"/>
<circle cx="2251.2" cy="208.8" r="18.5"/>
<circle cx="2260.6" cy="202.9" r="18.5"/>
<circle cx="2270.0" cy="193.9" r="18.5"/>
<circle cx="2279.4" cy="185.0" r="18.5"/>
<circle cx="2288.8" cy="176.1" r="18.5"/>
<circle cx="2298.1" cy="168.1" r="18.5"/>
<circle cx="2307.5" cy="161.8" r="18.5"/>
<circle cx="2316.9" cy="156.3" r="18.5"/>
</g>
<polyline points="439.7,188.9 449.0,192.2 458.4,195.5 467.8,198.9 477.2,202.2 486.5,205.6 495.9,208.9 505.3,212.3 514.7,215.7 524.0,219.1 533.4,222.5 542.8,225.8 552.2,229.2 561.5,232.6 570.9,235.9 580.3,239.3 589.7,242.6 599.0,246.0 608.4,249.3 617.8,252.6 627.2,255.8 636.5,259.1 645.9,262.3 655.3,265.5 664.7,268.6 674.0,271.7 683.4,274.8 692.8,277.8 702.2,280.9 711.5,284.0 720.9,287.1 730.3,290.3 739.7,293.6 749.0,296.9 758.4,300.2 767.8,303.6 777.2,307.0 786.5,310.5 795.9,313.9 805.3,317.4 814.7,320.9 824.0,324.4 833.4,327.9 842.8,331.4 852.2,334.9 861.5,338.4 870.9,341.8 880.3,345.3 889.7,348.7 899.0,352.1 908.4,355.4 917.8,358.7 927.2,361.9 936.5,365.2 945.9,368.4 955.3,371.7 964.7,375.1 974.0,378.5 983.4,382.0 992.8,385.6 1002.2,389.3 1011.5,393.0 1020.9,396.8 1030.3,400.7 1039.7,404.6 1049.0,408.5 1058.4,412.4 1067.8,416.2 1077.2,420.1 1086.5,424.0 1095.9,427.8 1105.3,431.5 1114.7,435.2 1124.0,438.8 1133.4,442.3 1142.8,445.9 1152.2,449.6 1161.5,453.3 1170.9,457.1 1180.3,461.1 1189.7,465.4 1199.0,469.8 1208.4,474.4 1217.8,479.0 1227.2,483.4 1236.5,487.6 1245.9,491.8 1255.3,496.0 1264.7,500.3 1274.0,504.7 1283.4,509.3 1292.8,514.1 1302.2,519.2 1311.5,525.0 1320.9,531.1 1330.3,537.5 1339.7,543.7 1349.0,549.3 1358.4,554.8 1367.8,561.0 1377.2,569.3 1386.5,580.5 1395.9,591.5 1405.3,601.4 1414.7,612.1 1424.0,624.9 1433.4,639.3 1442.8,655.7 1452.0,708.1 1461.0,738.5 1470.8,1003.9 1480.0,749.2 1488.8,687.3 1498.0,653.3 1507.5,594.1 1516.6,578.5 1525.5,526.5 1535.0,478.5 1544.0,460.5 1553.0,436.5 1563.0,397.5 1572.0,384.5 1582.0,360.5 1591.0,346.5 1599.0,329.5 1609.0,313.5 1618.4,300.5 1627.8,287.7 1637.1,274.7 1646.5,262.7 1655.9,251.8 1665.2,241.4 1674.6,231.3 1684.0,220.8 1693.4,209.7 1702.8,199.9 1712.1,191.1 1721.5,182.8 1730.9,175.1 1740.2,168.1 1749.6,161.8 1759.0,155.4 1768.4,148.6 1777.8,141.7 1787.1,135.0 1796.5,128.6 1805.9,122.3 1815.2,116.3 1824.6,110.4 1834.0,105.0 1843.4,100.3 1852.8,96.1 1862.1,92.7 1871.5,90.8 1880.9,89.4 1890.2,87.7 1899.6,85.9 1909.0,84.6 1918.4,83.4 1927.8,80.3 1937.1,79.0 1946.5,77.1 1955.9,76.6 1965.2,79.3 1974.6,75.0 1984.0,77.6 1993.4,72.9 2002.8,72.8 2012.1,76.1 2021.5,72.4 2030.9,71.7 2040.2,71.0 2049.6,74.7 2059.0,70.4 2068.4,69.5 2077.8,68.7 2087.1,68.2 2096.5,72.1 2105.9,71.4 2115.2,70.7 2124.6,65.9 2134.0,66.2 2143.4,69.4 2152.8,69.0 2162.1,68.2 2171.5,63.6 2180.9,66.3 2190.2,65.5 2199.6,65.1 2209.0,60.1 2218.4,63.8 2227.8,63.7 2237.1,62.8 2246.5,58.4 2255.9,62.9 2265.2,58.8 2274.6,62.5 2284.0,61.9 2293.4,62.4 2302.8,61.3 2312.1,61.6" fill="none" stroke="#94bdf3" stroke-width="2.2"/>
<g fill="#1b6fe0">
<path d="M437.2,171.4h5l18,35h-41z"/>
<path d="M446.5,174.7h5l18,35h-41z"/>
<path d="M455.9,178.0h5l18,35h-41z"/>
<path d="M465.3,181.4h5l18,35h-41z"/>
<path d="M474.7,184.7h5l18,35h-41z"/>
<path d="M484.0,188.1h5l18,35h-41z"/>
<path d="M493.4,191.4h5l18,35h-41z"/>
<path d="M502.8,194.8h5l18,35h-41z"/>
<path d="M512.2,198.2h5l18,35h-41z"/>
<path d="M521.5,201.6h5l18,35h-41z"/>
<path d="M530.9,205.0h5l18,35h-41z"/>
<path d="M540.3,208.3h5l18,35h-41z"/>
<path d="M549.7,211.7h5l18,35h-41z"/>
<path d="M559.0,215.1h5l18,35h-41z"/>
<path d="M568.4,218.4h5l18,35h-41z"/>
<path d="M577.8,221.8h5l18,35h-41z"/>
<path d="M587.2,225.1h5l18,35h-41z"/>
<path d="M596.5,228.5h5l18,35h-41z"/>
<path d="M605.9,231.8h5l18,35h-41z"/>
<path d="M615.3,235.1h5l18,35h-41z"/>
<path d="M624.7,238.3h5l18,35h-41z"/>
<path d="M634.0,241.6h5l18,35h-41z"/>
<path d="M643.4,244.8h5l18,35h-41z"/>
<path d="M652.8,248.0h5l18,35h-41z"/>
<path d="M662.2,251.1h5l18,35h-41z"/>
<path d="M671.5,254.2h5l18,35h-41z"/>
<path d="M680.9,257.3h5l18,35h-41z"/>
<path d="M690.3,260.3h5l18,35h-41z"/>
<path d="M699.7,263.4h5l18,35h-41z"/>
<path d="M709.0,266.5h5l18,35h-41z"/>
<path d="M718.4,269.6h5l18,35h-41z"/>
<path d="M727.8,272.8h5l18,35h-41z"/>
<path d="M737.2,276.1h5l18,35h-41z"/>
<path d="M746.5,279.4h5l18,35h-41z"/>
<path d="M755.9,282.7h5l18,35h-41z"/>
<path d="M765.3,286.1h5l18,35h-41z"/>
<path d="M774.7,289.5h5l18,35h-41z"/>
<path d="M784.0,293.0h5l18,35h-41z"/>
<path d="M793.4,296.4h5l18,35h-41z"/>
<path d="M802.8,299.9h5l18,35h-41z"/>
<path d="M812.2,303.4h5l18,35h-41z"/>
<path d="M821.5,306.9h5l18,35h-41z"/>
<path d="M830.9,310.4h5l18,35h-41z"/>
<path d="M840.3,313.9h5l18,35h-41z"/>
<path d="M849.7,317.4h5l18,35h-41z"/>
<path d="M859.0,320.9h5l18,35h-41z"/>
<path d="M868.4,324.3h5l18,35h-41z"/>
<path d="M877.8,327.8h5l18,35h-41z"/>
<path d="M887.2,331.2h5l18,35h-41z"/>
<path d="M896.5,334.6h5l18,35h-41z"/>
<path d="M905.9,337.9h5l18,35h-41z"/>
<path d="M915.3,341.2h5l18,35h-41z"/>
<path d="M924.7,344.4h5l18,35h-41z"/>
<path d="M934.0,347.7h5l18,35h-41z"/>
<path d="M943.4,350.9h5l18,35h-41z"/>
<path d="M952.8,354.2h5l18,35h-41z"/>
<path d="M962.2,357.6h5l18,35h-41z"/>
<path d="M971.5,361.0h5l18,35h-41z"/>
<path d="M980.9,364.5h5l18,35h-41z"/>
<path d="M990.3,368.1h5l18,35h-41z"/>
<path d="M999.7,371.8h5l18,35h-41z"/>
<path d="M1009.0,375.5h5l18,35h-41z"/>
<path d="M1018.4,379.3h5l18,35h-41z"/>
<path d="M1027.8,383.2h5l18,35h-41z"/>
<path d="M1037.2,387.1h5l18,35h-41z"/>
<path d="M1046.5,391.0h5l18,35h-41z"/>
<path d="M1055.9,394.9h5l18,35h-41z"/>
<path d="M1065.3,398.7h5l18,35h-41z"/>
<path d="M1074.7,402.6h5l18,35h-41z"/>
<path d="M1084.0,406.5h5l18,35h-41z"/>
<path d="M1093.4,410.3h5l18,35h-41z"/>
<path d="M1102.8,414.0h5l18,35h-41z"/>
<path d="M1112.2,417.7h5l18,35h-41z"/>
<path d="M1121.5,421.3h5l18,35h-41z"/>
<path d="M1130.9,424.8h5l18,35h-41z"/>
<path d="M1140.3,428.4h5l18,35h-41z"/>
<path d="M1149.7,432.1h5l18,35h-41z"/>
<path d="M1159.0,435.8h5l18,35h-41z"/>
<path d="M1168.4,439.6h5l18,35h-41z"/>
<path d="M1177.8,443.6h5l18,35h-41z"/>
<path d="M1187.2,447.9h5l18,35h-41z"/>
<path d="M1196.5,452.3h5l18,35h-41z"/>
<path d="M1205.9,456.9h5l18,35h-41z"/>
<path d="M1215.3,461.5h5l18,35h-41z"/>
<path d="M1224.7,465.9h5l18,35h-41z"/>
<path d="M1234.0,470.1h5l18,35h-41z"/>
<path d="M1243.4,474.3h5l18,35h-41z"/>
<path d="M1252.8,478.5h5l18,35h-41z"/>
<path d="M1262.2,482.8h5l18,35h-41z"/>
<path d="M1271.5,487.2h5l18,35h-41z"/>
<path d="M1280.9,491.8h5l18,35h-41z"/>
<path d="M1290.3,496.6h5l18,35h-41z"/>
<path d="M1299.7,501.7h5l18,35h-41z"/>
<path d="M1309.0,507.5h5l18,35h-41z"/>
<path d="M1318.4,513.6h5l18,35h-41z"/>
<path d="M1327.8,520.0h5l18,35h-41z"/>
<path d="M1337.2,526.2h5l18,35h-41z"/>
<path d="M1346.5,531.8h5l18,35h-41z"/>
<path d="M1355.9,537.3h5l18,35h-41z"/>
<path d="M1365.3,543.5h5l18,35h-41z"/>
<path d="M1374.7,551.8h5l18,35h-41z"/>
<path d="M1384.0,563.0h5l18,35h-41z"/>
<path d="M1393.4,574.0h5l18,35h-41z"/>
<path d="M1402.8,583.9h5l18,35h-41z"/>
<path d="M1412.2,594.6h5l18,35h-41z"/>
<path d="M1421.5,607.4h5l18,35h-41z"/>
<path d="M1433.4,621.8l20.5,35h-41z"/>
<path d="M1442.8,638.2l20.5,35h-41z"/>
<path d="M1452.0,690.6l20.5,35h-41z"/>
<path d="M1461.0,721.0l20.5,35h-41z"/>
<path d="M1470.8,986.4l20.5,35h-41z"/>
<path d="M1480.0,731.7l20.5,35h-41z"/>
<path d="M1488.8,669.8l20.5,35h-41z"/>
<path d="M1498.0,635.8l20.5,35h-41z"/>
<path d="M1507.5,576.6l20.5,35h-41z"/>
<path d="M1516.6,561.0l20.5,35h-41z"/>
<path d="M1525.5,509.0l20.5,35h-41z"/>
<path d="M1535.0,461.0l20.5,35h-41z"/>
<path d="M1544.0,443.0l20.5,35h-41z"/>
<path d="M1553.0,419.0l20.5,35h-41z"/>
<path d="M1560.5,380.0h5l18,35h-41z"/>
<path d="M1569.5,367.0h5l18,35h-41z"/>
<path d="M1579.5,343.0h5l18,35h-41z"/>
<path d="M1588.5,329.0h5l18,35h-41z"/>
<path d="M1599.0,312.0l20.5,35h-41z"/>
<path d="M1606.5,296.0h5l18,35h-41z"/>
<path d="M1615.9,283.0h5l18,35h-41z"/>
<path d="M1625.2,270.2h5l18,35h-41z"/>
<path d="M1634.6,257.2h5l18,35h-41z"/>
<path d="M1644.0,245.2h5l18,35h-41z"/>
<path d="M1653.4,234.3h5l18,35h-41z"/>
<path d="M1662.8,223.9h5l18,35h-41z"/>
<path d="M1672.1,213.8h5l18,35h-41z"/>
<path d="M1681.5,203.3h5l18,35h-41z"/>
<path d="M1690.9,192.2h5l18,35h-41z"/>
<path d="M1700.2,182.4h5l18,35h-41z"/>
<path d="M1709.6,173.6h5l18,35h-41z"/>
<path d="M1719.0,165.3h5l18,35h-41z"/>
<path d="M1728.4,157.6h5l18,35h-41z"/>
<path d="M1737.8,150.6h5l18,35h-41z"/>
<path d="M1747.1,144.3h5l18,35h-41z"/>
<path d="M1756.5,137.9h5l18,35h-41z"/>
<path d="M1765.9,131.1h5l18,35h-41z"/>
<path d="M1775.2,124.2h5l18,35h-41z"/>
<path d="M1784.6,117.5h5l18,35h-41z"/>
<path d="M1794.0,111.1h5l18,35h-41z"/>
<path d="M1803.4,104.8h5l18,35h-41z"/>
<path d="M1812.8,98.8h5l18,35h-41z"/>
<path d="M1822.1,92.9h5l18,35h-41z"/>
<path d="M1831.5,87.5h5l18,35h-41z"/>
<path d="M1840.9,82.8h5l18,35h-41z"/>
<path d="M1850.2,78.6h5l18,35h-41z"/>
<path d="M1859.6,75.2h5l18,35h-41z"/>
<path d="M1869.0,73.3h5l18,35h-41z"/>
<path d="M1878.4,71.9h5l18,35h-41z"/>
<path d="M1887.8,70.2h5l18,35h-41z"/>
<path d="M1897.1,68.4h5l18,35h-41z"/>
<path d="M1906.5,67.1h5l18,35h-41z"/>
<path d="M1915.9,65.9h5l18,35h-41z"/>
<path d="M1925.2,62.8h5l18,35h-41z"/>
<path d="M1934.6,61.5h5l18,35h-41z"/>
<path d="M1944.0,59.6h5l18,35h-41z"/>
<path d="M1953.4,59.1h5l18,35h-41z"/>
<path d="M1962.8,61.8h5l18,35h-41z"/>
<path d="M1972.1,57.5h5l18,35h-41z"/>
<path d="M1981.5,60.1h5l18,35h-41z"/>
<path d="M1990.9,55.4h5l18,35h-41z"/>
<path d="M2000.2,55.3h5l18,35h-41z"/>
<path d="M2009.6,58.6h5l18,35h-41z"/>
<path d="M2019.0,54.9h5l18,35h-41z"/>
<path d="M2028.4,54.2h5l18,35h-41z"/>
<path d="M2037.8,53.5h5l18,35h-41z"/>
<path d="M2047.1,57.2h5l18,35h-41z"/>
<path d="M2056.5,52.9h5l18,35h-41z"/>
<path d="M2065.9,52.0h5l18,35h-41z"/>
<path d="M2075.2,51.2h5l18,35h-41z"/>
<path d="M2084.6,50.7h5l18,35h-41z"/>
<path d="M2094.0,54.6h5l18,35h-41z"/>
<path d="M2103.4,53.9h5l18,35h-41z"/>
<path d="M2112.8,53.2h5l18,35h-41z"/>
<path d="M2122.1,48.4h5l18,35h-41z"/>
<path d="M2131.5,48.7h5l18,35h-41z"/>
<path d="M2140.9,51.9h5l18,35h-41z"/>
<path d="M2150.2,51.5h5l18,35h-41z"/>
<path d="M2159.6,50.7h5l18,35h-41z"/>
<path d="M2169.0,46.1h5l18,35h-41z"/>
<path d="M2178.4,48.8h5l18,35h-41z"/>
<path d="M2187.8,48.0h5l18,35h-41z"/>
<path d="M2197.1,47.6h5l18,35h-41z"/>
<path d="M2206.5,42.6h5l18,35h-41z"/>
<path d="M2215.9,46.3h5l18,35h-41z"/>
<path d="M2225.2,46.2h5l18,35h-41z"/>
<path d="M2234.6,45.3h5l18,35h-41z"/>
<path d="M2244.0,40.9h5l18,35h-41z"/>
<path d="M2253.4,45.4h5l18,35h-41z"/>
<path d="M2262.8,41.3h5l18,35h-41z"/>
<path d="M2272.1,45.0h5l18,35h-41z"/>
<path d="M2281.5,44.4h5l18,35h-41z"/>
<path d="M2290.9,44.9h5l18,35h-41z"/>
<path d="M2300.2,43.8h5l18,35h-41z"/>
<path d="M2309.6,44.1h5l18,35h-41z"/>
</g>
</g>
<g font-family="'Liberation Serif','Times New Roman',serif" fill="#000" stroke="#fff" stroke-width="0.8">
<text x="205.6" y="254.4" font-size="61">1</text>
<text x="253.1" y="257.8" font-size="71">×</text>
<text x="309.2" y="254.4" font-size="61.3">10</text>
<text x="368.3" y="237.2" font-size="55">−</text>
<text x="398.3" y="235.3" font-size="47">3</text>
<text x="202.3" y="515.1" font-size="61">1</text>
<text x="249.8" y="518.5" font-size="71">×</text>
<text x="305.9" y="515.1" font-size="61.3">10</text>
<text x="365.0" y="497.9" font-size="55">−</text>
<text x="395.0" y="494.8" font-size="47">4</text>
<text x="202.3" y="782.6" font-size="61">1</text>
<text x="249.8" y="786.0" font-size="71">×</text>
<text x="305.9" y="782.6" font-size="61.3">10</text>
<text x="365.0" y="765.4" font-size="55">−</text>
<text x="395.0" y="763.0" font-size="47">5</text>
<text x="202.3" y="1047.0" font-size="61">1</text>
<text x="249.8" y="1050.4" font-size="71">×</text>
<text x="305.9" y="1047.0" font-size="61.3">10</text>
<text x="365.0" y="1029.8" font-size="55">−</text>
<text x="395.0" y="1027.3" font-size="47">6</text>
<text x="202.3" y="1304.2" font-size="61">1</text>
<text x="249.8" y="1307.6" font-size="71">×</text>
<text x="305.9" y="1304.2" font-size="61.3">10</text>
<text x="365.0" y="1287.0" font-size="55">−</text>
<text x="395.0" y="1283.4" font-size="47">7</text>
<text x="202.3" y="1528.0" font-size="61">1</text>
<text x="249.8" y="1531.4" font-size="71">×</text>
<text x="305.9" y="1528.0" font-size="61.3">10</text>
<text x="365.0" y="1510.8" font-size="55">−</text>
<text x="395.0" y="1507.3" font-size="47">8</text>
</g>
<g font-family="'Liberation Sans',Arial,sans-serif" font-size="65.7" text-anchor="middle" fill="#000">
<text x="625.9" y="1639.3">-1.8</text>
<text x="1000.9" y="1639.3">-1.7</text>
<text x="1375.9" y="1639.3">-1.6</text>
<text x="1750.9" y="1639.3">-1.5</text>
<text x="2125.9" y="1639.3">-1.4</text>
</g>
<text x="1170.6" y="1761.5" font-family="'Liberation Sans',Arial,sans-serif" font-size="79.5">Potential(V)</text>
<text transform="translate(88.5,1034.9) rotate(-90)" font-family="'Liberation Sans',Arial,sans-serif" font-size="79.5">log(i/A)</text>
<g>
<path d="M560.5,1165.4H625M671.3,1165.4H735" stroke="#cdcdcd" stroke-width="4"/>
<rect x="631.3" y="1149.1" width="32.7" height="30.4" fill="#4f4f4f"/>
<path d="M559.1,1279.4H624.4M671.5,1279.4H737.2" stroke="#f29a9a" stroke-width="3.5"/>
<circle cx="647.7" cy="1278.1" r="18.3" fill="#ef3f3f"/>
<path d="M559,1392.7H625M671,1392.7H736.2" stroke="#a3c4f0" stroke-width="4.5"/>
<path d="M648.2,1368.9L670.4,1405.4H625.9Z" fill="#1b6fe0"/>
<g font-family="'Liberation Sans',Arial,sans-serif" font-size="80" fill="#000">
<text x="756.7" y="1188.7">PPy/V</text>
<text x="974.4" y="1212.4" font-size="57.3">2</text>
<text x="1004.4" y="1188.7">O</text>
<text x="1067.5" y="1211.8" font-size="57.3">5</text>
<text x="756.0" y="1304.1">V</text>
<text x="808.0" y="1327.2" font-size="57.3">2</text>
<text x="838.2" y="1303.7">O</text>
<text x="899.5" y="1326.2" font-size="57.3">5</text>
<text transform="translate(755.6,1419) scale(0.983,1.03)">Bare Mg</text>
</g>
</g>
</svg></body></html>
